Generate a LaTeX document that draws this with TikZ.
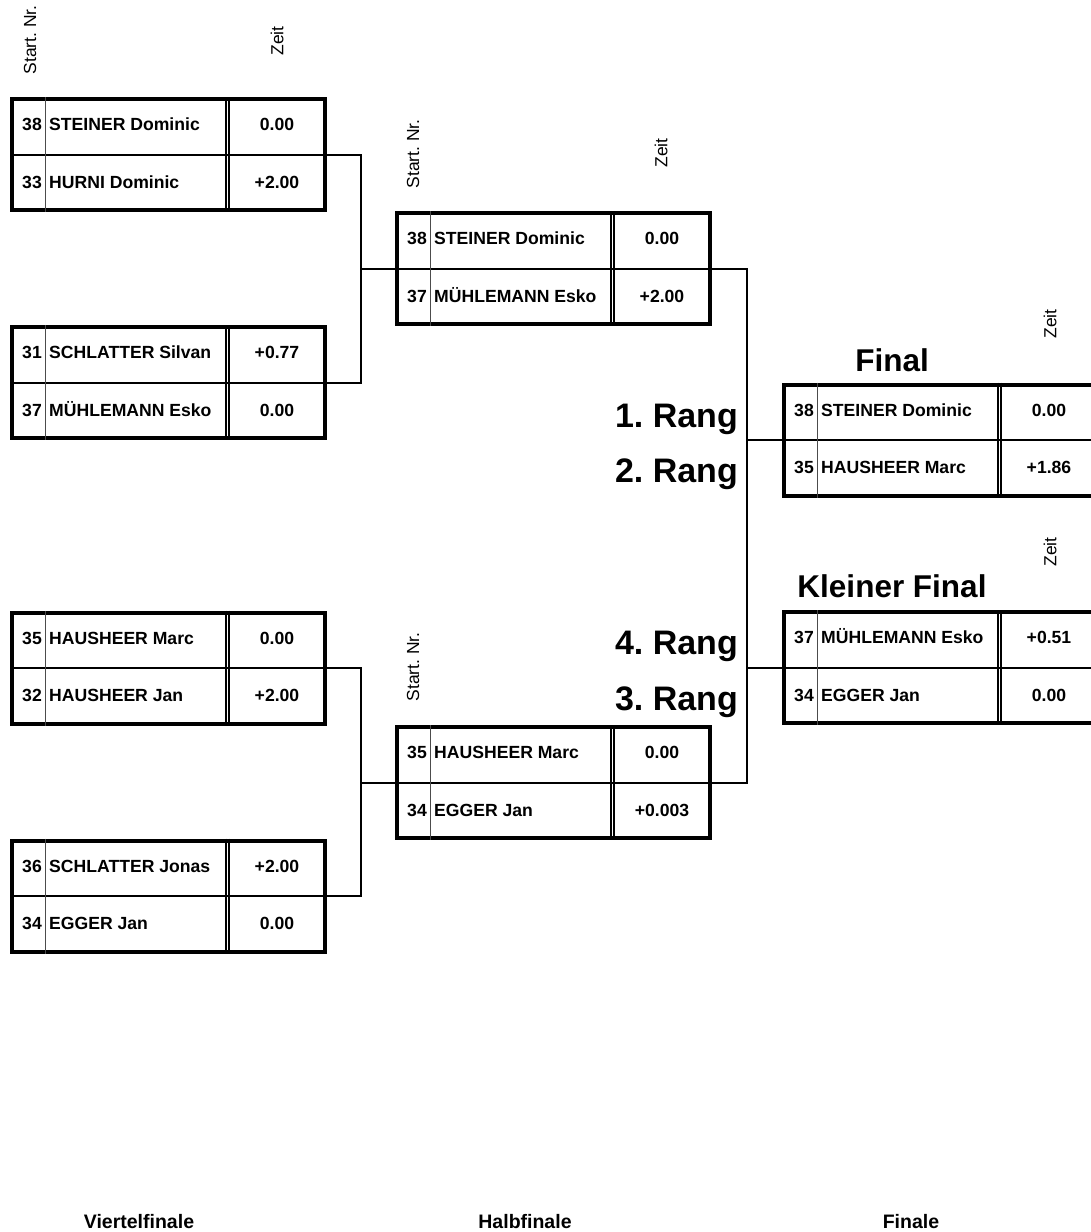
\documentclass[tikz,border=0pt]{standalone}
\usepackage{fontspec}
\setmainfont{Liberation Sans}
\usetikzlibrary{calc}
\frenchspacing

\begin{document}
\begin{tikzpicture}[
  x=1pt, y=-1pt,
  duel/.style={rectangle, draw, line width=4pt, minimum width=313pt,
    minimum height=111pt, inner sep=0pt},
  cell/.style={inner sep=0pt, text height=12.5pt, text depth=0pt,
    font=\fontsize{17.6}{20}\selectfont\bfseries},
  head/.style={rotate=90, inner sep=0pt, font=\fontsize{17.5}{20}\selectfont},
  rang/.style={anchor=east, inner sep=0pt, text height=24.4pt, text depth=0pt,
    font=\fontsize{34}{40}\selectfont\bfseries},
  title/.style={inner sep=0pt, text height=22.5pt, text depth=0pt,
    font=\fontsize{31.5}{36}\selectfont\bfseries},
  stage/.style={inner sep=0pt, text height=14pt, text depth=0pt,
    font=\fontsize{19.5}{22}\selectfont\bfseries},
  conn/.style={line width=2pt},
]
\useasboundingbox (0,0) rectangle (1091,1232);

\node[duel] (qf1) at (168.5,154.5) {};
\node[duel] (qf2) at (168.5,382.5) {};
\node[duel] (qf3) at (168.5,668) {};
\node[duel] (qf4) at (168.5,896) {};
\node[duel] (hf1) at (553.5,268.5) {};
\node[duel] (hf2) at (553.5,782.5) {};
\node[duel] (fin) at (940.5,440) {};
\node[duel] (kf) at (940.5,667.5) {};

\foreach \b/\na/\pa/\ta/\nb/\pb/\tb in {
  qf1/38/STEINER Dominic/0.00/33/HURNI Dominic/+2.00,
  qf2/31/SCHLATTER Silvan/+0.77/37/MÜHLEMANN Esko/0.00,
  qf3/35/HAUSHEER Marc/0.00/32/HAUSHEER Jan/+2.00,
  qf4/36/SCHLATTER Jonas/+2.00/34/EGGER Jan/0.00,
  hf1/38/STEINER Dominic/0.00/37/MÜHLEMANN Esko/+2.00,
  hf2/35/HAUSHEER Marc/0.00/34/EGGER Jan/+0.003,
  fin/38/STEINER Dominic/0.00/35/HAUSHEER Marc/+1.86,
  kf/37/MÜHLEMANN Esko/+0.51/34/EGGER Jan/0.00}{
  \draw[line width=2pt] (\b.west) -- (\b.east);
  \draw[line width=1pt, black!70] ($(\b.north west)+(35,0)$) -- ($(\b.south west)+(35,0)$);
  \draw[line width=2pt] ($(\b.north west)+(215.7,0)$) -- ($(\b.south west)+(215.7,0)$);
  \draw[line width=2pt] ($(\b.north west)+(219,0)$) -- ($(\b.south west)+(219,0)$);
  \node[cell, anchor=east] (\b-n1) at ($(\b.north west)+(32,27.5)$) {\na};
  \node[cell, anchor=west] (\b-p1) at ($(\b.north west)+(39,27.5)$) {\pa};
  \node[cell] (\b-t1) at ($(\b.north west)+(267,27.5)$) {\ta};
  \node[cell, anchor=east] (\b-n2) at ($(\b.north west)+(32,85)$) {\nb};
  \node[cell, anchor=west] (\b-p2) at ($(\b.north west)+(39,85)$) {\pb};
  \node[cell] (\b-t2) at ($(\b.north west)+(267,85)$) {\tb};
}

\coordinate (ja) at ($(qf1.east)!.5!(hf1.west)$);
\coordinate (jb) at ($(qf3.east)!.5!(hf2.west)$);
\coordinate (jc) at ($(hf1.east)!.5!(fin.west)$);

\draw[conn] (qf1.east) -| (ja) |- (qf2.east);
\draw[conn] (hf1.west) -- (hf1.west -| ja);
\draw[conn] (qf3.east) -| (jb) |- (qf4.east);
\draw[conn] (hf2.west) -- (hf2.west -| jb);
\draw[conn] (hf1.east) -| (jc) |- (hf2.east);
\draw[conn] (fin.west) -- (fin.west -| jc);
\draw[conn] (kf.west) -- (kf.west -| jc);

\node[head] (sn1) at (30,40) {Start. Nr.};
\node[head] (ze1) at (277,41) {Zeit};
\node[head] (sn2) at (413,154) {Start. Nr.};
\node[head] (ze2) at (661,153) {Zeit};
\node[head] (sn3) at (413,667) {Start. Nr.};
\node[head] (ze3) at (1050,324) {Zeit};
\node[head] (ze4) at (1050,552) {Zeit};

\node[rang] (r1) at (738,415) {1. Rang};
\node[rang] (r2) at (738,470) {2. Rang};
\node[rang] (r4) at (738,642) {4. Rang};
\node[rang] (r3) at (738,698) {3. Rang};

\node[title] (tfin) at (892,360) {Final};
\node[title] (tkf) at (892,586) {Kleiner Final};

\node[stage] (vf) at (139,1221) {Viertelfinale};
\node[stage] (hfl) at (525,1221) {Halbfinale};
\node[stage] (fl) at (911,1221) {Finale};
\end{tikzpicture}
\end{document}
